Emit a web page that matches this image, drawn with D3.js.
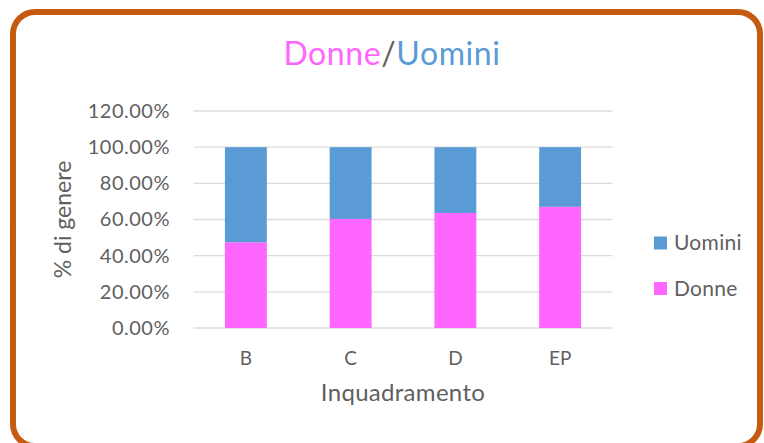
<!DOCTYPE html>
<html>
<head>
<meta charset="utf-8">
<script src="https://cdn.jsdelivr.net/npm/d3@7"></script>
<style>
  html, body { margin: 0; padding: 0; background: #fff; }
  svg { display: block; font-family: Lato, "Open Sans", sans-serif; }
</style>
</head>
<body>
<svg id="chart"></svg>
<script>
// data
const categories = ['B', 'C', 'D', 'EP'];
const donne = [0.474, 0.603, 0.636, 0.670];
const uomini = donne.map((d) => 1 - d); // the two shares add up to 100%
const yTicks = [0, 0.2, 0.4, 0.6, 0.8, 1.0, 1.2];
const seriesKeys = ['Donne', 'Uomini'];

const width = 764;
const height = 443;
const colors = { Donne: '#FF66FF', Uomini: '#5B9BD5' };
const textColor = '#5f5f5f';

const svg = d3.select('#chart').attr('width', width).attr('height', height);

// rounded frame, bottom edge runs off the picture
svg.append('rect')
	.attr('x', 13)
	.attr('y', 12)
	.attr('width', 747)
	.attr('height', 434)
	.attr('rx', 22)
	.attr('fill', '#fff')
	.attr('stroke', '#C55A11')
	.attr('stroke-width', 6);

const rows = categories.map((c, i) => ({ cat: c, Donne: donne[i], Uomini: uomini[i] }));
const series = d3.stack().keys(seriesKeys)(rows);

const x = d3.scaleBand()
	.domain(categories)
	.range([193.5, 612.5])
	.paddingInner(0.6)
	.paddingOuter(0.3);

const y = d3.scaleLinear()
	.domain([0, 1.2])
	.range([328, 111]);

// gridlines
svg.append('g')
	.selectAll('line')
	.data(yTicks)
	.join('line')
	.attr('x1', 193.5)
	.attr('x2', 612.5)
	.attr('y1', (d) => y(d))
	.attr('y2', (d) => y(d))
	.attr('stroke', '#DCDCDC')
	.attr('stroke-width', 1.3);

// bars
svg.append('g')
	.selectAll('g')
	.data(series)
	.join('g')
	.attr('fill', (d) => colors[d.key])
	.selectAll('rect')
	.data((d) => d)
	.join('rect')
	.attr('x', (d) => x(d.data.cat))
	.attr('y', (d) => y(d[1]))
	.attr('width', x.bandwidth())
	.attr('height', (d) => y(d[0]) - y(d[1]));

// y axis labels
const yAxis = svg.append('g')
	.attr('transform', 'translate(185,0)')
	.call(d3.axisLeft(y).tickValues(yTicks).tickFormat(d3.format('.2%')).tickSize(0).tickPadding(0));
yAxis.select('.domain').remove();
yAxis.selectAll('text')
	.attr('x', -15)
	.attr('fill', textColor)
	.style('font-size', '20px')
	.style('letter-spacing', '0.5px')
	.style('font-family', 'Lato, sans-serif');

// x axis labels
const xAxis = svg.append('g')
	.attr('transform', 'translate(0,328)')
	.call(d3.axisBottom(x).tickSize(0).tickPadding(0));
xAxis.select('.domain').remove();
xAxis.selectAll('text')
	.attr('y', 23.5)
	.attr('fill', textColor)
	.style('font-size', '19px')
	.style('font-family', 'Lato, sans-serif');

// axis titles
svg.append('text')
	.attr('transform', `translate(71,${y(0.6)}) rotate(-90)`)
	.attr('text-anchor', 'middle')
	.attr('fill', textColor)
	.style('font-size', '23px')
	.text('% di genere');

svg.append('text')
	.attr('x', 403)
	.attr('y', 401)
	.attr('text-anchor', 'middle')
	.attr('fill', textColor)
	.style('font-size', '24px')
	.style('letter-spacing', '0.3px')
	.text('Inquadramento');

// title with coloured words
const title = svg.append('text')
	.attr('x', 392)
	.attr('y', 65)
	.attr('text-anchor', 'middle')
	.style('font-size', '32px')
	.style('letter-spacing', '0.6px');
title.append('tspan').attr('fill', colors.Donne).text('Donne');
title.append('tspan').attr('fill', textColor).text('/');
title.append('tspan').attr('fill', colors.Uomini).text('Uomini');

// legend
const legend = svg.append('g')
	.selectAll('g')
	.data(seriesKeys.slice().reverse())
	.join('g')
	.attr('transform', (d, i) => `translate(654,${236.5 + i * 45.5})`);

legend.append('rect')
	.attr('width', 13)
	.attr('height', 13)
	.attr('fill', (d) => colors[d]);

legend.append('text')
	.attr('x', 20)
	.attr('y', 6.5)
	.attr('dy', '0.35em')
	.attr('fill', textColor)
	.style('font-size', '21px')
	.style('letter-spacing', '0.3px')
	.text((d) => d);
</script>
</body>
</html>
